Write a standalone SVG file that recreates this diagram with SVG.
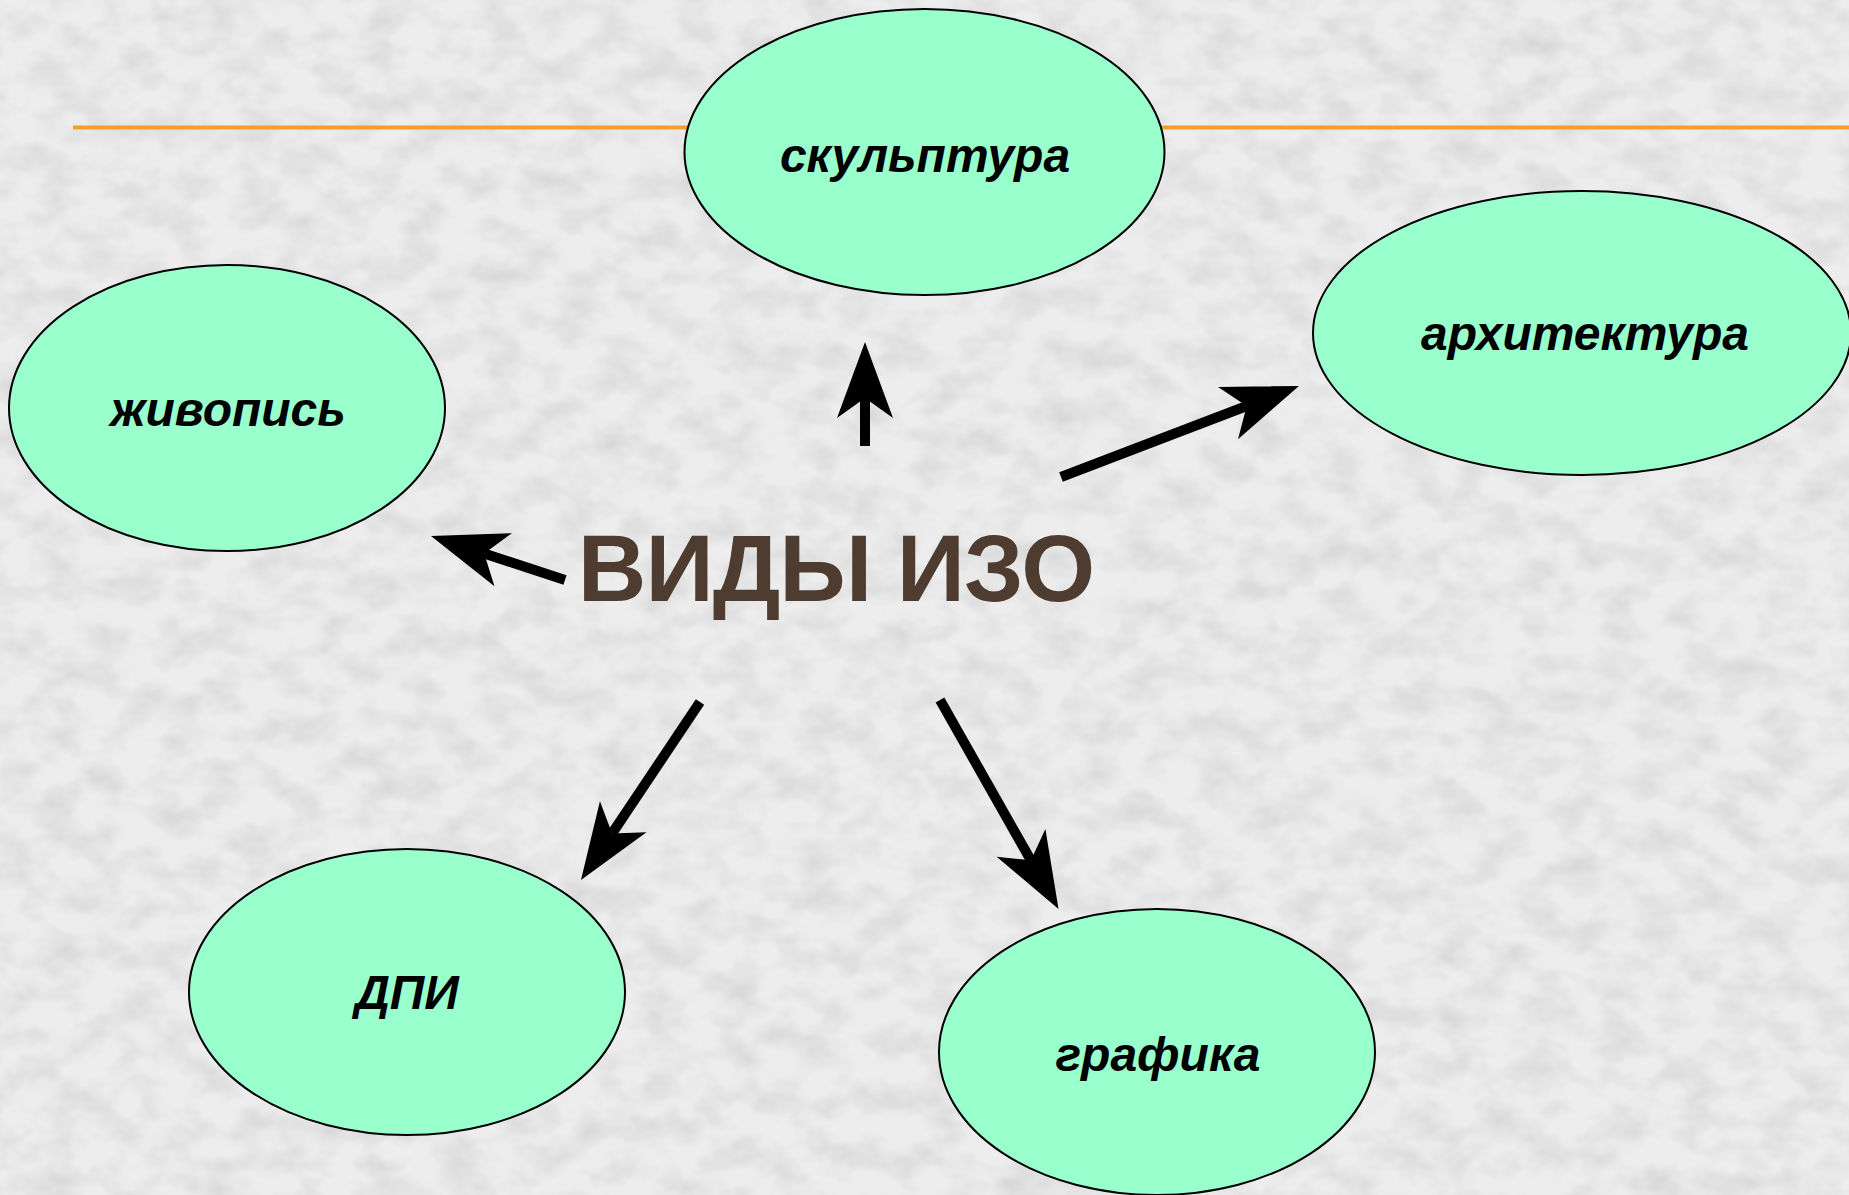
<svg xmlns="http://www.w3.org/2000/svg" width="1849" height="1195" viewBox="0 0 1849 1195">
  <defs>
    <filter id="noise" x="0" y="0" width="100%" height="100%">
      <feTurbulence type="fractalNoise" baseFrequency="0.025 0.035" numOctaves="3" seed="7" result="t"/>
      <feColorMatrix type="matrix" in="t" values="0 0 0 0 0.55  0 0 0 0 0.55  0 0 0 0 0.55  -1.6 0 0 0 1.0"/>
    </filter>
    <marker id="arrow" markerUnits="userSpaceOnUse" viewBox="0 -28 76 56" markerWidth="76" markerHeight="56" refX="20" refY="0" orient="auto" overflow="visible">
      <path d="M76,0 L0,-28 L20,0 L0,28 Z" fill="#000"/>
    </marker>
    <style>
      .node ellipse { fill: #99FFCC; stroke: #000; stroke-width: 2; }
      .node text { font-family: "Liberation Sans", Arial, sans-serif; font-weight: bold; font-style: italic; font-size: 48px; fill: #000; text-anchor: middle; }
      .conn line { stroke: #000; stroke-width: 10; marker-end: url(#arrow); }
      .title { font-family: "Liberation Sans", Arial, sans-serif; font-weight: bold; font-size: 95px; fill: #4F3C30; }
    </style>
  </defs>
  <rect x="0" y="0" width="1849" height="1195" fill="#EDEDED"/>
  <rect x="0" y="0" width="1849" height="1195" filter="url(#noise)" opacity="0.6"/>
  <line x1="73" y1="127.5" x2="1849" y2="127.5" stroke="#F0A030" stroke-width="4"/>

  <g id="conn" class="conn">
    <line x1="865" y1="446" x2="865" y2="398"/>
    <line x1="1061" y1="477" x2="1246.7" y2="406"/>
    <line x1="565" y1="580" x2="484.2" y2="553.5"/>
    <line x1="700" y1="702" x2="612.1" y2="833.4"/>
    <line x1="940" y1="700" x2="1030.9" y2="860.3"/>
  </g>

  <g id="node-sculpture" class="node">
    <ellipse cx="924.5" cy="152" rx="240" ry="143"/>
    <text x="925" y="172">скульптура</text>
  </g>
  <g id="node-architecture" class="node">
    <ellipse cx="1582" cy="333" rx="269" ry="142"/>
    <text x="1585" y="350">архитектура</text>
  </g>
  <g id="node-painting" class="node">
    <ellipse cx="227" cy="408" rx="218" ry="143"/>
    <text x="228" y="426">живопись</text>
  </g>
  <g id="node-dpi" class="node">
    <ellipse cx="407" cy="992" rx="218" ry="143"/>
    <text x="407" y="1009">ДПИ</text>
  </g>
  <g id="node-graphics" class="node">
    <ellipse cx="1157" cy="1052" rx="218" ry="143"/>
    <text x="1158" y="1071">графика</text>
  </g>
  <g id="node-center">
    <text class="title" x="836" y="601" text-anchor="middle" letter-spacing="-1">ВИДЫ ИЗО</text>
  </g>
</svg>
